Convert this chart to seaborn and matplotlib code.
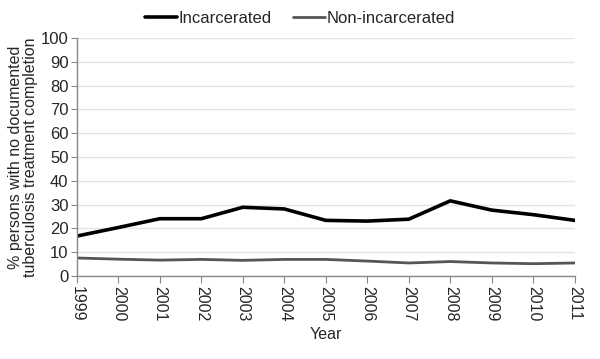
import numpy as np
import pandas as pd
import matplotlib
matplotlib.use("Agg")
import matplotlib.pyplot as plt
import seaborn as sns
from matplotlib.lines import Line2D

years = list(range(1999, 2012))
incarcerated = [16.8, 20.4, 24.1, 24.1, 28.9, 28.2, 23.4, 23.1, 23.9, 31.6, 27.7, 25.8, 23.4]
non_incarcerated = [7.6, 7.1, 6.7, 7.0, 6.6, 7.0, 7.0, 6.3, 5.5, 6.1, 5.5, 5.2, 5.5]

df = pd.DataFrame({"Year": years * 2,
                   "Value": incarcerated + non_incarcerated,
                   "Group": ["Incarcerated"] * 13 + ["Non-incarcerated"] * 13})

sns.set_style("white")
plt.rcParams['font.family'] = ['Liberation Sans', 'DejaVu Sans']

fig = plt.figure(figsize=(6, 3.59), dpi=100)
ax = fig.add_axes([0.128, 0.231, 0.83, 0.663])

sns.lineplot(data=df, x="Year", y="Value", hue="Group",
             palette={"Incarcerated": "#000000", "Non-incarcerated": "#555555"},
             ax=ax, legend=False)
ax.lines[0].set_linewidth(2.6)
ax.lines[1].set_linewidth(2.0)

ax.set_xlim(1999, 2011)
ax.set_ylim(0, 100)
ax.set_yticks(np.arange(0, 101, 10))
ax.set_xticks(years)
ax.set_xticklabels([str(y) for y in years], rotation=270, fontsize=11.5)
ax.tick_params(axis="y", labelsize=12, length=4, color="#888888", direction="out", left=True, pad=2)
ax.tick_params(axis="x", length=5, color="#888888", direction="out", bottom=True, pad=2)
ax.yaxis.grid(True, color="#e3e3e3", linewidth=1)
ax.set_axisbelow(True)
for s in ["top", "right"]:
    ax.spines[s].set_visible(False)
for s in ["left", "bottom"]:
    ax.spines[s].set_color("#888888")
    ax.spines[s].set_linewidth(1)

ax.set_xlabel("Year", fontsize=11.5, labelpad=4)
ax.set_ylabel("% persons with no documented\ntuberculosis treatment completion", fontsize=11.5,
              labelpad=2, linespacing=1.0)

handles = [Line2D([], [], color="#000000", lw=2.6), Line2D([], [], color="#555555", lw=2.0)]
fig.legend(handles, ["Incarcerated", "Non-incarcerated"], loc="center", bbox_to_anchor=(0.5, 0.948),
           ncol=2, frameon=False, fontsize=12, handlelength=1.9, handletextpad=0.1, columnspacing=1.3)

fig.savefig("out.png", dpi=100)
